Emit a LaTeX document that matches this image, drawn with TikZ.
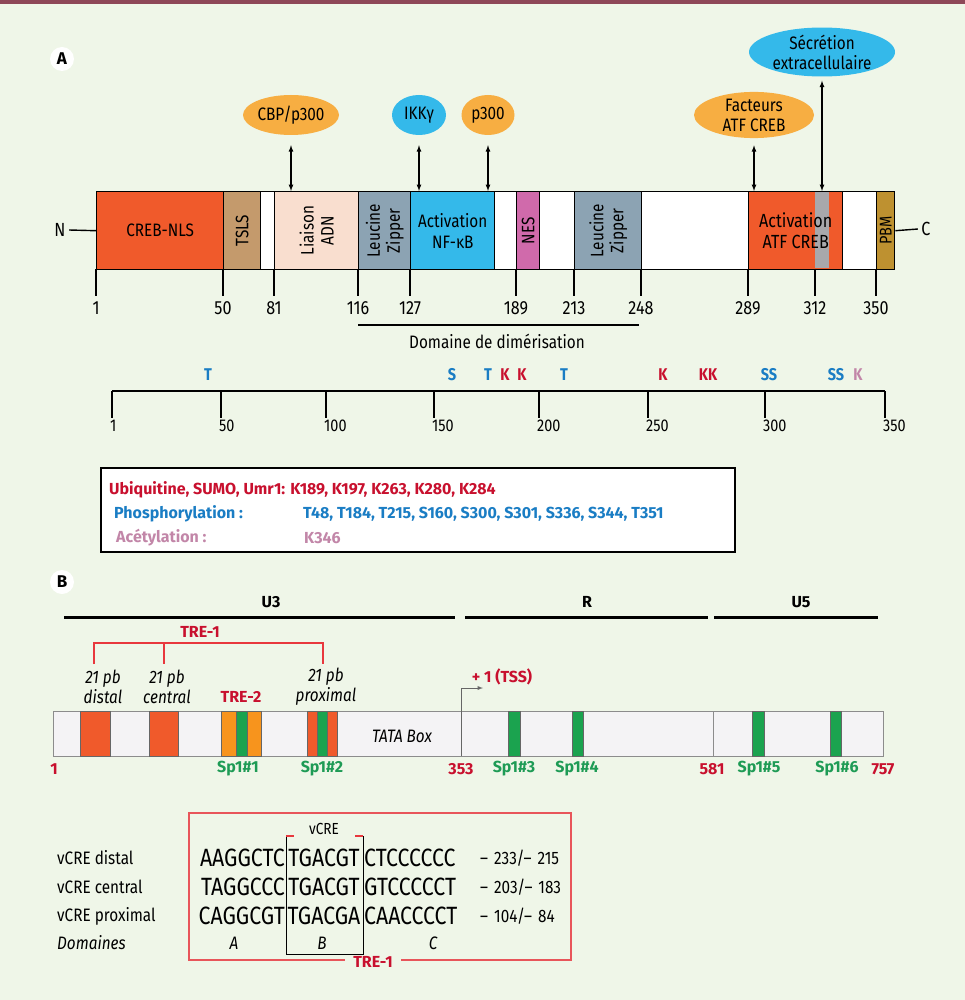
\documentclass[tikz,border=0pt]{standalone}
\usepackage{amsmath}
\usepackage{fontspec}
\setmainfont[FakeStretch=0.85]{Fira Sans}
\newfontfamily\grasfont{Fira Sans}
\usepackage{pgf,tikz}
\usetikzlibrary{positioning,shapes,fit,calc}

\definecolor{fond}{RGB}{239,246,232}
\definecolor{bordeau}{RGB}{142,72,88}
\definecolor{rougeNLS}{RGB}{240,90,43}
\definecolor{brunTSLS}{RGB}{196,154,108}
\definecolor{peche}{RGB}{249,222,207}
\definecolor{zip}{RGB}{140,163,179}
\definecolor{bleuNF}{RGB}{52,185,234}
\definecolor{roseNES}{RGB}{208,106,171}
\definecolor{grisATF}{RGB}{168,168,172}
\definecolor{orPBM}{RGB}{190,145,48}
\definecolor{orangeel}{RGB}{247,174,66}
\definecolor{phos}{RGB}{26,125,196}
\definecolor{ubi}{RGB}{200,16,46}
\definecolor{acet}{RGB}{194,134,168}
\definecolor{vertSp}{RGB}{27,163,79}
\definecolor{vertxt}{RGB}{30,155,85}
\definecolor{orangeTRE}{RGB}{247,148,29}
\definecolor{rougeTRE}{RGB}{232,56,61}
\definecolor{barB}{RGB}{244,243,245}
\definecolor{grisB}{RGB}{140,140,140}
\definecolor{cadre}{RGB}{232,85,90}

\tikzset{
  seg/.style={draw,line width=1.4pt,anchor=north west,minimum height=78pt,inner sep=0pt,font=\fontsize{18}{21}\selectfont},
  vtxt/.style={rotate=90,align=center,font=\fontsize{18}{20}\selectfont},
  partner/.style={ellipse,inner sep=0pt,align=center,font=\fontsize{18}{20}\selectfont},
  link/.style={latex-latex,line width=1.2pt},
  tick/.style={line width=1.4pt},
  posnum/.style={font=\fontsize{19}{21}\selectfont},
  res/.style={font=\bfseries\fontsize{17}{19}\selectfont},
  modtxt/.style={anchor=west,inner sep=0pt,font=\grasfont\bfseries\fontsize{16}{18}\selectfont},
  pastille/.style={circle,fill=white,minimum size=24pt,inner sep=0pt,font=\grasfont\bfseries\fontsize{17}{19}\selectfont},
  region/.style={font=\grasfont\bfseries\fontsize{16}{18}\selectfont},
  site/.style={align=center,font=\itshape\fontsize{18}{20}\selectfont},
  spnum/.style={font=\grasfont\bfseries\fontsize{16}{18}\selectfont},
  seq/.style={inner sep=0pt,font=\fontsize{25}{27}\selectfont},
  vlab/.style={anchor=west,inner sep=0pt,font=\fontsize{18}{20}\selectfont}
}

\begin{document}
\begin{tikzpicture}[x=1pt,y=-1pt]
        \useasboundingbox (0,0) rectangle (965,1000);
        \fill[fond] (0,0) rectangle (965,1000);
        \fill[bordeau] (0,0) rectangle (965,4);

        % A : proteine
        \node[pastille] (lblA) at (62,59) {A};

        \node[seg,fill=rougeNLS,minimum width=127pt] (nls) at (96,191) {CREB-NLS};
        \node[seg,fill=brunTSLS,minimum width=37pt] (tsls) at (223,191) {};
        \node[seg,fill=white,minimum width=14pt] (vide1) at (260,191) {};
        \node[seg,fill=peche,minimum width=84pt] (adn) at (274,191) {};
        \node[seg,fill=zip,minimum width=52pt] (lzA) at (358,191) {};
        \node[seg,fill=bleuNF,minimum width=84pt,align=center] (nfkb) at (410,191) {Activation\\NF-κB};
        \node[seg,fill=white,minimum width=22pt] (vide2) at (494,191) {};
        \node[seg,fill=roseNES,minimum width=23pt] (nes) at (516,191) {};
        \node[seg,fill=white,minimum width=35pt] (vide3) at (539,191) {};
        \node[seg,fill=zip,minimum width=67pt] (lzB) at (574,191) {};
        \node[seg,fill=white,minimum width=107pt] (vide4) at (641,191) {};
        \node[seg,fill=rougeNLS,minimum width=94pt] (atf) at (748,191) {};
        \fill[grisATF] (815,191.7) rectangle (829,268.3);
        \node[seg,fill=white,minimum width=34pt] (vide5) at (842,191) {};
        \node[seg,fill=orPBM,minimum width=18pt] (pbm) at (876,191) {};

        \node[vtxt] at (tsls) {TSLS};
        \node[vtxt] at (adn) {Liaison\\ADN};
        \node[vtxt] at (lzA) {Leucine\\Zipper};
        \node[vtxt] at (nes) {NES};
        \node[vtxt] at (lzB) {Leucine\\Zipper};
        \node[vtxt,font=\fontsize{17}{18}\selectfont] at (pbm) {PBM};
        \node[align=center,font=\fontsize{19}{21}\selectfont] at (atf) {Activation\\ATF CREB};

        \node[posnum] (nterm) at (60,230) {N};
        \node[posnum] (cterm) at (926,229) {C};
        \draw[tick] (nterm.east) -- (nls.west);
        \draw[tick] (pbm.east) -- (cterm.west);

        \foreach \x/\n in {96/1,223/50,274/81,358/116,410/127,516/189,574/213,641/248,748/289,815/312,876/350}{
          \draw[tick] (\x,269) -- (\x,296);
          \node[posnum] at (\x,308) {\n};
        }
        \draw[line width=1.2pt] (358,325) -- (639,325);
        \node[font=\fontsize{18}{20}\selectfont] at (497,341) {Domaine de dimérisation};

        % partenaires
        \node[partner,fill=orangeel,minimum width=96pt,minimum height=40pt] (cbp) at (291,115) {CBP/p300};
        \node[partner,fill=bleuNF,minimum width=54pt,minimum height=40pt] (ikk) at (419,115) {IKKγ};
        \node[partner,fill=orangeel,minimum width=53pt,minimum height=40pt] (ptrois) at (488,115) {p300};
        \node[partner,fill=orangeel,minimum width=120pt,minimum height=46pt] (facteurs) at (754,115) {Facteurs\\ATF CREB};
        \node[partner,fill=bleuNF,minimum width=146pt,minimum height=48pt] (secretion) at (822,52) {Sécrétion\\extracellulaire};

        \draw[link,shorten <=10pt] (cbp.south) -- (cbp.south |- nls.north);
        \draw[link,shorten <=10pt] (ikk.south) -- (ikk.south |- nls.north);
        \draw[link,shorten <=10pt] (ptrois.south) -- (ptrois.south |- nls.north);
        \draw[link,shorten <=7pt] (facteurs.south) -- (facteurs.south |- nls.north);
        \draw[link,shorten <=4pt] (secretion.south) -- (secretion.south |- nls.north);

        % regle des residus
        \draw[tick] (112,391) -- (885,391);
        \foreach \x/\n in {112/1,221/50,326/100,434/150,539/200,648/250,765/300,885/350}{
          \draw[tick] (\x,391) -- (\x,418);
          \node[anchor=west,inner sep=0pt,font=\fontsize{17}{19}\selectfont] at (\x-2,426) {\n};
        }
        \foreach \x/\t/\c in {208/T/phos,452/S/phos,488/T/phos,505/K/ubi,522/K/ubi,564/T/phos,663/K/ubi,708/KK/ubi,769/SS/phos,836/SS/phos,858/K/acet}
          \node[res,text=\c] at (\x,375) {\t};

        \node[draw,line width=2.8pt,fill=white,minimum width=634pt,minimum height=84pt,inner sep=0pt] (ptmbox) at (418,510) {};
        \node[modtxt,text=ubi] at (109,490) {Ubiquitine, SUMO, Umr1: K189, K197, K263, K280, K284};
        \node[modtxt,text=phos] at (114,514) {Phosphorylation :};
        \node[modtxt,text=phos] at (303,514) {T48, T184, T215, S160, S300, S301, S336, S344, T351};
        \node[modtxt,text=acet] at (116,538) {Acétylation :};
        \node[modtxt,text=acet] at (304,538) {K346};

        % B : LTR
        \node[pastille] (lblB) at (62,582) {B};
        \draw[line width=3pt] (64,617) -- (455,617);
        \draw[line width=3pt] (465,617) -- (708,617);
        \draw[line width=3pt] (714,617) -- (878,617);
        \node[region] at (271,602) {U3};
        \node[region] at (587,602) {R};
        \node[region] at (801,602) {U5};

        \node[region,text=ubi] (treA) at (200,632) {TRE-1};
        \draw[rougeTRE,line width=2.2pt] (94,664) -- (94,643) -- (323,643) -- (323,664);
        \draw[rougeTRE,line width=2.2pt] (164,643) -- (164,664);
        \node[site] at (103,687) {21 pb\\distal};
        \node[site] at (167,687) {21 pb\\central};
        \node[site] at (326,687) {21 pb\\proximal};
        \node[region,text=ubi] at (241,697) {TRE-2};

        \node[draw=grisB,fill=barB,line width=1pt,anchor=north west,minimum width=830pt,minimum height=45pt,inner sep=0pt] (ltr) at (53,711) {};
        \foreach \a/\b/\c in {80/110/rougeNLS,149/178/rougeNLS,221/236/orangeTRE,236/247/vertSp,247/261/orangeTRE,307/317/rougeNLS,317/327/vertSp,327/337/rougeNLS,508/520/vertSp,572/583/vertSp,752/764/vertSp,830/841/vertSp}
          \draw[fill=\c,draw=black!60,line width=0.6pt] (\a,711) rectangle (\b,756);
        \draw[grisB,line width=1pt] (713,711) -- (713,756);
        \node[font=\itshape\fontsize{18}{20}\selectfont] at (402,736) {TATA Box};

        \coordinate (tss) at (461,756);
        \coordinate (tssfin) at (483,688);
        \draw[black!60,line width=0.9pt,-latex] (tss) |- (tssfin);
        \node[region,text=ubi] at (502,677) {+ 1 (TSS)};

        \foreach \x/\t in {54/1,461/353,712/581,883/757}
          \node[spnum,text=ubi] at (\x,769) {\t};
        \foreach \x/\t in {238/1,322/2,514/3,577/4,759/5,837/6}
          \node[spnum,text=vertxt] at (\x,769) {Sp1\#\t};

        % sequences vCRE
        \draw[cadre,line width=1.2pt] (189,813) rectangle (571,960);
        \node[region,text=ubi,fill=fond,inner xsep=8pt] at (373,962) {TRE-1};
        \draw[line width=1pt] (286,836) -- (286,954) -- (363,954) -- (363,836);
        \draw[rougeTRE,line width=1.2pt] (286,836) -- (294,836);
        \draw[rougeTRE,line width=1.2pt] (355,836) -- (363,836);
        \node[font=\fontsize{16}{18}\selectfont] at (324,829) {vCRE};

        \foreach \y/\nom/\a/\b/\c/\p/\q in {858/distal/AAGGCTC/TGACGT/CTCCCCCC/233/215,887/central/TAGGCCC/TGACGT/GTCCCCCT/203/183,916/proximal/CAGGCGT/TGACGA/CAACCCCT/104/84}{
          \node[vlab] at (57,\y) {vCRE \nom};
          \node[seq,anchor=east] at (285,\y) {\a};
          \node[seq] at (324,\y) {\b};
          \node[seq,anchor=west] at (364,\y) {\c};
          \node[vlab] at (480,\y) {–\,\,\p/–\,\,\q};
        }
        \node[vlab,font=\itshape\fontsize{18}{20}\selectfont] at (57,943) {Domaines};
        \foreach \x/\d in {234/A,322/B,433/C}
          \node[font=\itshape\fontsize{18}{20}\selectfont] at (\x,943) {\d};
    \end{tikzpicture}
\end{document}
